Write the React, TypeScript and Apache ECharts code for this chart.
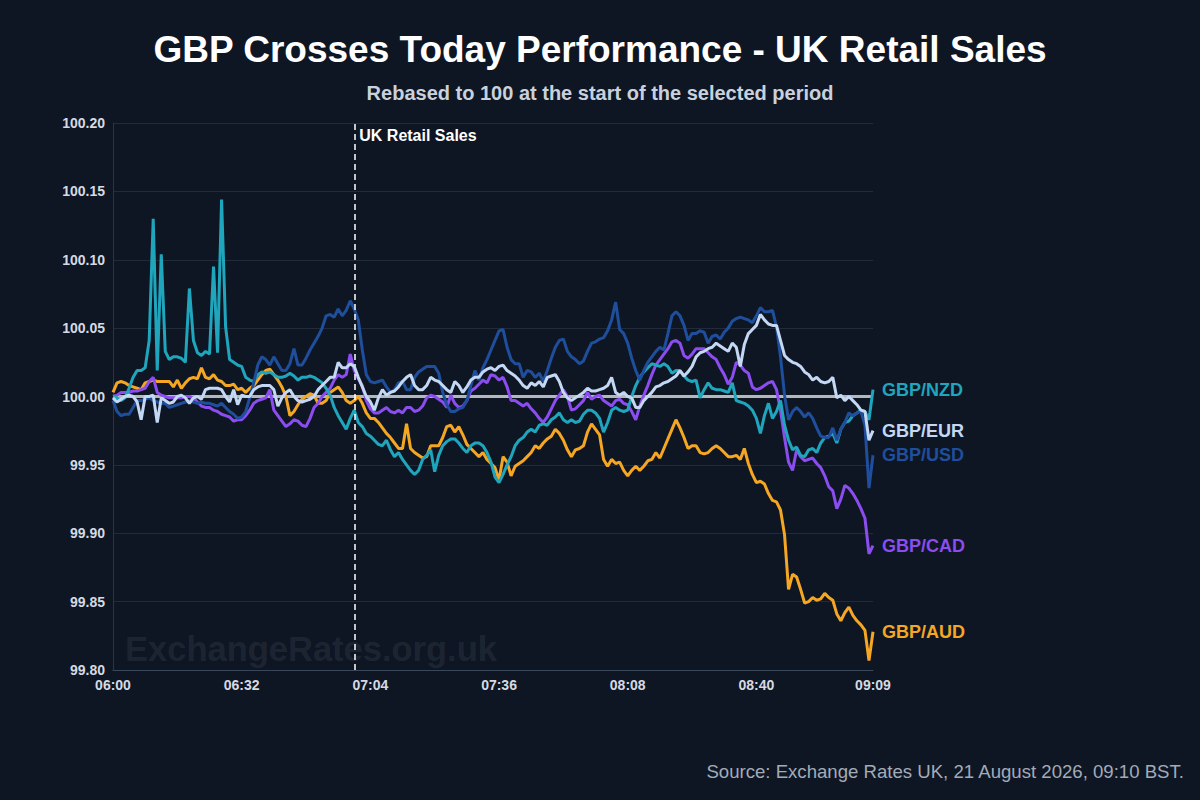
import React, { useEffect, useRef } from "react";
import * as echarts from "echarts";

const FONT = "'Liberation Sans', Arial, Helvetica, sans-serif";
const START_MINUTE = 6 * 60; // 06:00
const minutes: number[] = Array.from({ length: 190 }, (_, i) => i); // 06:00 .. 09:09
const xInterval = 32;
const yMin = 99.8;
const yMax = 100.2;
const yInterval = 0.05;
const baseline = 100;
const eventMinute = 60; // 07:00
const eventLabel = "UK Retail Sales";

const titleText = "GBP Crosses Today Performance - UK Retail Sales";
const subtitleText = "Rebased to 100 at the start of the selected period";
const sourceText = "Source: Exchange Rates UK, 21 August 2026, 09:10 BST.";
const watermarkText = "ExchangeRates.org.uk";

const gbpNzd = [
  100.000, 99.999, 99.997, 99.999, 100.006, 100.014, 100.019, 100.019, 100.021, 100.041,
  100.130, 100.019, 100.104, 100.033, 100.027, 100.029, 100.029, 100.028, 100.025, 100.079,
  100.041, 100.032, 100.030, 100.033, 100.031, 100.095, 100.032, 100.144, 100.051, 100.027,
  100.025, 100.023, 100.022, 100.014, 100.012, 100.011, 100.016, 100.018, 100.017, 100.018,
  100.016, 100.014, 100.014, 100.015, 100.017, 100.015, 100.012, 100.014, 100.014, 100.015,
  100.014, 100.012, 100.010, 100.006, 100.001, 99.992, 99.986, 99.981, 99.976, 99.984,
  99.990, 99.981, 99.978, 99.973, 99.971, 99.968, 99.965, 99.964, 99.968, 99.961,
  99.956, 99.959, 99.954, 99.950, 99.946, 99.943, 99.946, 99.954, 99.957, 99.961,
  99.945, 99.957, 99.964, 99.967, 99.969, 99.969, 99.966, 99.962, 99.959, 99.964,
  99.966, 99.966, 99.964, 99.959, 99.952, 99.941, 99.937, 99.943, 99.950, 99.956,
  99.964, 99.968, 99.970, 99.974, 99.976, 99.974, 99.979, 99.980, 99.979, 99.983,
  99.985, 99.988, 99.983, 99.981, 99.983, 99.981, 99.982, 99.987, 99.990, 99.990,
  99.988, 99.984, 99.974, 99.981, 99.990, 99.992, 99.990, 99.989, 99.990, 100.000,
  100.008, 100.014, 100.018, 100.021, 100.024, 100.023, 100.022, 100.024, 100.022, 100.017,
  100.019, 100.019, 100.015, 100.012, 100.011, 100.012, 99.999, 100.005, 100.010, 100.006,
  100.005, 100.005, 100.004, 100.003, 100.010, 99.997, 99.996, 99.995, 99.993, 99.990,
  99.984, 99.973, 99.986, 99.995, 99.984, 99.989, 99.997, 99.979, 99.968, 99.961,
  99.963, 99.957, 99.956, 99.961, 99.962, 99.959, 99.966, 99.970, 99.971, 99.973,
  99.966, 99.976, 99.981, 99.982, 99.986, 99.988, 99.990, 99.989, 99.983, 100.005,
];

const gbpEur = [
  99.999, 99.996, 99.998, 100.000, 100.001, 100.000, 99.996, 99.983, 100.000, 100.000,
  100.001, 99.981, 99.999, 99.997, 99.995, 99.996, 100.000, 100.001, 99.999, 99.995,
  99.999, 100.000, 99.998, 100.005, 100.006, 100.006, 100.006, 100.005, 100.000, 99.996,
  100.005, 99.994, 100.001, 100.000, 100.000, 100.005, 100.007, 100.008, 100.008, 100.008,
  100.005, 99.993, 99.999, 100.003, 100.005, 100.000, 99.997, 99.996, 99.997, 99.998,
  100.000, 100.005, 100.008, 100.011, 100.014, 100.014, 100.025, 100.021, 100.021, 100.024,
  100.022, 100.014, 100.007, 100.000, 99.996, 99.990, 99.999, 100.005, 100.001, 100.003,
  100.004, 100.007, 100.011, 100.014, 100.016, 100.008, 100.005, 100.005, 100.008, 100.014,
  100.012, 100.011, 100.008, 100.005, 100.003, 100.011, 100.008, 100.003, 100.007, 100.012,
  100.014, 100.014, 100.018, 100.020, 100.021, 100.019, 100.022, 100.023, 100.019, 100.017,
  100.015, 100.012, 100.008, 100.006, 100.010, 100.008, 100.011, 100.007, 100.014, 100.015,
  100.016, 100.011, 100.003, 99.999, 99.997, 99.999, 100.001, 100.003, 100.006, 100.004,
  100.004, 100.005, 100.006, 100.008, 100.014, 100.003, 100.001, 100.003, 100.000, 99.999,
  99.992, 99.992, 99.997, 100.000, 100.003, 100.007, 100.008, 100.010, 100.011, 100.013,
  100.015, 100.019, 100.015, 100.018, 100.022, 100.029, 100.032, 100.033, 100.035, 100.036,
  100.039, 100.037, 100.035, 100.033, 100.039, 100.036, 100.022, 100.038, 100.046, 100.049,
  100.052, 100.060, 100.056, 100.053, 100.052, 100.052, 100.041, 100.030, 100.027, 100.025,
  100.024, 100.022, 100.018, 100.016, 100.012, 100.014, 100.011, 100.010, 100.011, 100.014,
  99.999, 100.001, 99.997, 100.000, 99.997, 99.994, 99.990, 99.989, 99.968, 99.975,
];

const gbpUsd = [
  99.997, 99.989, 99.986, 99.987, 99.987, 99.992, 99.997, 99.997, 99.998, 99.999,
  99.997, 99.996, 99.995, 99.995, 99.992, 99.993, 99.994, 99.995, 99.996, 99.997,
  99.996, 99.995, 99.996, 99.995, 99.995, 99.994, 99.993, 99.995, 99.992, 99.989,
  99.987, 99.984, 99.985, 99.989, 99.999, 100.010, 100.023, 100.029, 100.027, 100.023,
  100.029, 100.024, 100.019, 100.019, 100.024, 100.035, 100.023, 100.023, 100.028, 100.034,
  100.039, 100.044, 100.050, 100.059, 100.060, 100.058, 100.064, 100.059, 100.063, 100.070,
  100.064, 100.056, 100.034, 100.016, 100.011, 100.010, 100.011, 100.012, 100.007, 100.003,
  100.005, 100.010, 100.011, 100.005, 100.005, 100.014, 100.018, 100.020, 100.022, 100.022,
  100.022, 100.017, 100.003, 99.994, 99.989, 99.989, 99.991, 99.992, 99.997, 100.008,
  100.019, 100.012, 100.021, 100.027, 100.034, 100.041, 100.048, 100.049, 100.036, 100.027,
  100.024, 100.024, 100.014, 100.019, 100.018, 100.014, 100.017, 100.011, 100.019, 100.028,
  100.036, 100.041, 100.042, 100.033, 100.029, 100.027, 100.024, 100.026, 100.033, 100.039,
  100.040, 100.042, 100.043, 100.048, 100.056, 100.069, 100.049, 100.046, 100.039, 100.028,
  100.019, 100.012, 100.019, 100.025, 100.029, 100.033, 100.036, 100.034, 100.046, 100.059,
  100.062, 100.059, 100.052, 100.041, 100.046, 100.046, 100.048, 100.047, 100.039, 100.044,
  100.045, 100.042, 100.047, 100.050, 100.055, 100.057, 100.058, 100.057, 100.056, 100.054,
  100.059, 100.065, 100.062, 100.062, 100.063, 100.051, 100.029, 100.001, 99.983, 99.989,
  99.992, 99.989, 99.985, 99.988, 99.984, 99.977, 99.971, 99.970, 99.970, 99.977,
  99.968, 99.976, 99.981, 99.988, 99.986, 99.988, 99.989, 99.979, 99.933, 99.957,
];

const gbpCad = [
  100.000, 100.001, 100.003, 100.003, 100.003, 100.004, 100.004, 100.005, 100.006, 100.011,
  100.014, 100.003, 100.001, 100.000, 99.999, 99.999, 99.999, 99.999, 100.000, 100.000,
  99.999, 99.996, 99.993, 99.992, 99.992, 99.990, 99.989, 99.987, 99.986, 99.985,
  99.982, 99.983, 99.983, 99.986, 99.990, 99.995, 99.997, 99.998, 99.999, 100.005,
  99.990, 99.986, 99.982, 99.978, 99.980, 99.983, 99.982, 99.979, 99.978, 99.984,
  99.992, 99.995, 100.000, 100.003, 100.006, 100.012, 100.016, 100.014, 100.016, 100.031,
  100.019, 100.013, 100.008, 99.997, 99.991, 99.988, 99.988, 99.990, 99.992, 99.989,
  99.988, 99.990, 99.988, 99.992, 99.992, 99.989, 99.990, 99.993, 99.999, 100.001,
  100.000, 99.998, 99.996, 99.992, 100.001, 99.995, 99.992, 99.993, 99.997, 100.004,
  100.006, 100.009, 100.012, 100.010, 100.016, 100.015, 100.012, 100.014, 100.007, 99.997,
  99.997, 99.995, 99.993, 99.995, 99.991, 99.988, 99.984, 99.981, 99.985, 99.991,
  99.997, 100.001, 100.005, 100.000, 99.990, 99.991, 99.994, 99.997, 100.003, 99.998,
  100.000, 100.001, 99.997, 99.995, 99.993, 99.997, 99.998, 99.995, 99.994, 99.989,
  99.983, 99.993, 100.001, 100.008, 100.016, 100.023, 100.027, 100.031, 100.035, 100.040,
  100.041, 100.039, 100.030, 100.028, 100.031, 100.035, 100.035, 100.035, 100.032, 100.029,
  100.027, 100.021, 100.016, 100.009, 100.014, 100.025, 100.023, 100.019, 100.017, 100.007,
  100.005, 100.006, 100.008, 100.010, 100.011, 100.005, 99.990, 99.970, 99.952, 99.946,
  99.961, 99.956, 99.953, 99.954, 99.955, 99.951, 99.948, 99.942, 99.934, 99.931,
  99.918, 99.925, 99.935, 99.933, 99.929, 99.924, 99.918, 99.911, 99.885, 99.891,
];

const gbpAud = [
  100.003, 100.010, 100.011, 100.010, 100.008, 100.007, 100.006, 100.005, 100.010, 100.011,
  100.012, 100.011, 100.011, 100.011, 100.011, 100.007, 100.012, 100.006, 100.010, 100.013,
  100.014, 100.013, 100.021, 100.014, 100.013, 100.016, 100.012, 100.011, 100.008, 100.008,
  100.009, 100.005, 100.006, 100.003, 100.006, 100.008, 100.012, 100.016, 100.019, 100.020,
  100.016, 100.012, 100.007, 100.000, 99.986, 99.989, 99.994, 99.998, 100.000, 100.002,
  100.001, 99.995, 99.995, 99.997, 100.003, 100.005, 100.007, 100.003, 99.997, 99.995,
  99.997, 100.000, 99.995, 99.988, 99.984, 99.984, 99.981, 99.977, 99.973, 99.970,
  99.966, 99.962, 99.962, 99.980, 99.962, 99.959, 99.957, 99.955, 99.956, 99.964,
  99.964, 99.964, 99.970, 99.978, 99.979, 99.974, 99.978, 99.972, 99.965, 99.962,
  99.959, 99.956, 99.959, 99.954, 99.951, 99.948, 99.939, 99.956, 99.952, 99.942,
  99.949, 99.951, 99.953, 99.956, 99.959, 99.964, 99.962, 99.966, 99.969, 99.971,
  99.976, 99.973, 99.968, 99.961, 99.956, 99.961, 99.962, 99.964, 99.974, 99.980,
  99.976, 99.972, 99.954, 99.949, 99.954, 99.951, 99.952, 99.946, 99.942, 99.946,
  99.949, 99.946, 99.949, 99.953, 99.954, 99.959, 99.955, 99.962, 99.969, 99.976,
  99.983, 99.977, 99.970, 99.962, 99.964, 99.964, 99.959, 99.958, 99.959, 99.962,
  99.964, 99.962, 99.959, 99.956, 99.956, 99.957, 99.954, 99.962, 99.951, 99.943,
  99.937, 99.938, 99.936, 99.929, 99.924, 99.923, 99.917, 99.899, 99.859, 99.870,
  99.868, 99.859, 99.849, 99.850, 99.853, 99.851, 99.852, 99.856, 99.853, 99.851,
  99.841, 99.836, 99.842, 99.846, 99.840, 99.836, 99.833, 99.829, 99.807, 99.828,
];

const seriesDefs = [
  { name: "GBP/AUD", values: gbpAud, color: "#f5a623" },
  { name: "GBP/CAD", values: gbpCad, color: "#8b4cf0" },
  { name: "GBP/NZD", values: gbpNzd, color: "#1fa6bd" },
  { name: "GBP/USD", values: gbpUsd, color: "#1f4f9c" },
  { name: "GBP/EUR", values: gbpEur, color: "#c4d8f4" },
];

function fmtTime(v: number): string {
  const t = START_MINUTE + Math.round(v);
  const h = Math.floor(t / 60);
  const m = t % 60;
  return `${String(h).padStart(2, "0")}:${String(m).padStart(2, "0")}`;
}

export default function App() {
  const ref = useRef<HTMLDivElement>(null);

  useEffect(() => {
    if (!ref.current) return;
    const chart = echarts.init(ref.current, undefined, { renderer: "svg" });

    const series: any[] = [
      {
        name: "Baseline",
        type: "line",
        data: minutes.map((m) => [m, baseline]),
        symbol: "none",
        silent: true,
        z: 1,
        lineStyle: { color: "#b3b8bf", width: 3 },
        markLine: {
          silent: true,
          symbol: "none",
          z: 6,
          label: { show: false },
          lineStyle: { color: "#ffffff", width: 1.5, type: [6, 4] },
          data: [{ xAxis: eventMinute }],
        },
      },
      ...seriesDefs.map((s, i) => ({
        name: s.name,
        type: "line",
        data: minutes.map((m, k) => [m, s.values[k]]),
        symbol: "none",
        silent: true,
        z: 2 + i,
        lineStyle: { color: s.color, width: 3 },
        itemStyle: { color: s.color },
        endLabel: {
          show: true,
          formatter: "{a}",
          color: s.color,
          fontSize: 18,
          fontWeight: "bold",
          fontFamily: FONT,
          distance: 9,
        },
      })),
    ];

    chart.setOption({
      animation: false,
      backgroundColor: "#0e1624",
      textStyle: { fontFamily: FONT },
      title: [
        {
          text: titleText,
          left: "center",
          top: 26,
          textStyle: { color: "#ffffff", fontSize: 37, fontWeight: "bold", fontFamily: FONT },
        },
        {
          text: subtitleText,
          left: "center",
          top: 78,
          textStyle: { color: "#c9d1dd", fontSize: 20, fontWeight: "bold", fontFamily: FONT },
        },
      ],
      grid: { left: 113, right: 327, top: 123, bottom: 130, containLabel: false },
      xAxis: {
        type: "value",
        min: 0,
        max: 189,
        interval: xInterval,
        axisLine: { show: true, lineStyle: { color: "#3a4659", width: 1 } },
        axisTick: { show: false },
        splitLine: { show: false },
        axisLabel: {
          formatter: (v: number) => fmtTime(v),
          color: "#d5dae2",
          fontSize: 14,
          fontWeight: "bold",
          fontFamily: FONT,
          margin: 8,
        },
      },
      yAxis: {
        type: "value",
        min: yMin,
        max: yMax,
        interval: yInterval,
        axisLine: { show: true, lineStyle: { color: "#2a3445", width: 1 } },
        axisTick: { show: false },
        splitLine: { show: true, lineStyle: { color: "#212b3a", width: 1 } },
        axisLabel: {
          formatter: (v: number) => v.toFixed(2),
          color: "#d5dae2",
          fontSize: 14,
          fontWeight: "bold",
          fontFamily: FONT,
          margin: 8,
        },
      },
      graphic: [
        {
          id: "watermark",
          type: "text",
          left: 125,
          top: 631,
          z: 0,
          silent: true,
          style: {
            text: watermarkText,
            fill: "rgba(255,255,255,0.08)",
            fontSize: 34.5,
            fontWeight: "bold",
            fontFamily: FONT,
          },
        },
        {
          id: "source",
          type: "text",
          right: 15,
          top: 762,
          silent: true,
          style: {
            text: sourceText,
            fill: "#a3abb8",
            fontSize: 18.6,
            fontFamily: FONT,
          },
        },
      ],
      series,
    });

    const px = chart.convertToPixel({ xAxisIndex: 0 }, eventMinute) as number;
    const py = chart.convertToPixel({ yAxisIndex: 0 }, yMax) as number;
    chart.setOption({
      graphic: [
        {
          id: "eventLabel",
          type: "text",
          x: px + 5,
          y: py + 4,
          z: 10,
          silent: true,
          style: {
            text: eventLabel,
            fill: "#ffffff",
            fontSize: 16,
            fontWeight: "bold",
            fontFamily: FONT,
            textVerticalAlign: "top",
          },
        },
      ],
    });

    return () => chart.dispose();
  }, []);

  return (
    <div
      ref={ref}
      style={{ position: "fixed", left: 0, top: 0, width: 1200, height: 800 }}
    />
  );
}
